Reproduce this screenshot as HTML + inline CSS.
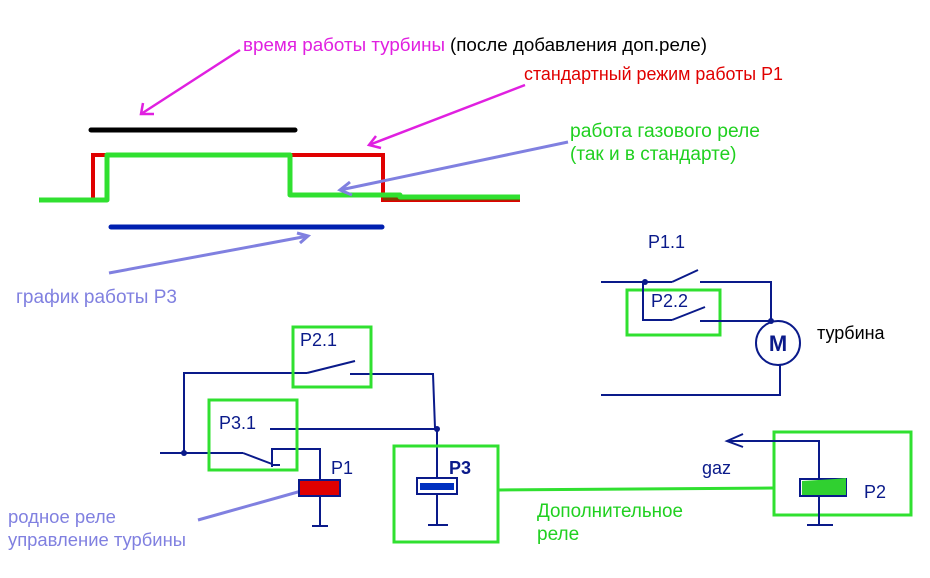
<!DOCTYPE html>
<html><head><meta charset="utf-8"><style>
html,body{margin:0;padding:0;background:#fff;}
svg{display:block;font-family:"Liberation Sans",Arial,sans-serif;}
</style></head><body>
<svg width="930" height="578" viewBox="0 0 930 578" xmlns="http://www.w3.org/2000/svg">
<!-- top texts -->
<text x="243" y="51" font-size="18.5" fill="#e020e0" textLength="202" lengthAdjust="spacingAndGlyphs">время работы турбины</text>
<text x="450" y="51" font-size="18.5" fill="#000" textLength="257" lengthAdjust="spacingAndGlyphs">(после добавления доп.реле)</text>
<text x="524" y="80" font-size="18" fill="#e00000" textLength="259" lengthAdjust="spacingAndGlyphs">стандартный режим работы Р1</text>
<text x="570" y="137" font-size="19" fill="#20d020" textLength="190" lengthAdjust="spacingAndGlyphs">работа газового реле</text>
<text x="570" y="160" font-size="19" fill="#20d020">(так и в стандарте)</text>
<text x="16" y="303" font-size="19" fill="#8080e0" textLength="161" lengthAdjust="spacingAndGlyphs">график работы Р3</text>
<text x="8" y="523" font-size="18.5" fill="#8080e0">родное реле</text>
<text x="8" y="546" font-size="18.5" fill="#8080e0" textLength="178" lengthAdjust="spacingAndGlyphs">управление турбины</text>
<text x="537" y="517" font-size="19" fill="#20d020" textLength="146" lengthAdjust="spacingAndGlyphs">Дополнительное</text>
<text x="537" y="540" font-size="19" fill="#20d020">реле</text>

<!-- timing lines -->
<line x1="91" y1="130" x2="295" y2="130" stroke="#000" stroke-width="5" stroke-linecap="round"/>
<polyline points="93,200 93,155 383,155 383,200 520,200" fill="none" stroke="#e00000" stroke-width="4"/>
<line x1="383" y1="199" x2="520" y2="199" stroke="#804000" stroke-width="3"/>
<polyline points="39,200 107,200 107,155 290,155 290,195 400,195 400,197 520,197" fill="none" stroke="#30e030" stroke-width="5" stroke-linejoin="round"/>
<line x1="111" y1="227" x2="382" y2="227" stroke="#0020b0" stroke-width="5" stroke-linecap="round"/>

<!-- arrows -->
<g stroke="#e020e0" stroke-width="2.5" fill="none">
<line x1="240" y1="50" x2="141" y2="114"/><polyline points="143,103 141,114 154,114"/>
<line x1="525" y1="85" x2="369" y2="145"/><polyline points="376,136 369,145 381,148"/>
</g>
<g stroke="#8080e0" stroke-width="3" fill="none">
<line x1="568" y1="142" x2="340" y2="190"/><polyline points="350,182 340,190 352,195"/>
<line x1="109" y1="273" x2="308" y2="236"/><polyline points="297,233 308,236 300,243"/>
<line x1="198" y1="520" x2="312" y2="488"/>
</g>

<!-- left circuit -->
<g stroke="#0a1a8a" stroke-width="2" fill="none">
<line x1="160" y1="453" x2="243" y2="453"/>
<line x1="243" y1="453" x2="272" y2="464"/>
<line x1="272" y1="448" x2="272" y2="467"/>
<line x1="272" y1="465" x2="280" y2="465"/>
<polyline points="272,449 320,449 320,480"/>
<polyline points="184,453 184,373 307,373"/>
<line x1="307" y1="373" x2="355" y2="361"/>
<polyline points="350,374 433,374 435,428"/>
<line x1="270" y1="429" x2="437" y2="429"/>
<line x1="437" y1="429" x2="437" y2="478"/>
<line x1="320" y1="496" x2="320" y2="526"/>
<line x1="312" y1="526" x2="328" y2="526"/>
<line x1="437" y1="494" x2="437" y2="525"/>
<line x1="428" y1="525" x2="448" y2="525"/>
</g>
<circle cx="184" cy="453" r="3" fill="#0a1a8a"/>
<circle cx="437" cy="429" r="3" fill="#0a1a8a"/>
<rect x="299" y="480" width="41" height="16" fill="#e00000" stroke="#0a1a8a" stroke-width="2"/>
<rect x="417" y="478" width="40" height="16" fill="#fff" stroke="#0a1a8a" stroke-width="2"/>
<rect x="420" y="483" width="34" height="7" fill="#0030c0"/>
<g stroke="#30e030" stroke-width="3" fill="none">
<rect x="293" y="327" width="78" height="60"/>
<rect x="209" y="400" width="88" height="70"/>
<rect x="394" y="446" width="104" height="96"/>
<rect x="774" y="432" width="137" height="83"/>
<rect x="627" y="290" width="93" height="45"/>
<line x1="498" y1="490" x2="774" y2="488"/>
</g>
<g font-size="18" fill="#0a1a8a">
<text x="300" y="346">P2.1</text>
<text x="219" y="429">P3.1</text>
<text x="331" y="474">P1</text>
<text x="449" y="474" font-weight="bold">P3</text>
<text x="864" y="498">P2</text>
<text x="702" y="474">gaz</text>
<text x="648" y="248">P1.1</text>
<text x="651" y="307">P2.2</text>
</g>
<text x="817" y="339" font-size="18" fill="#000">турбина</text>

<!-- P2 -->
<rect x="800" y="479" width="46" height="17" fill="#fff" stroke="#0a1a8a" stroke-width="2"/>
<path d="M802,481 L835,479 L846,478 L846,495 L802,495 Z" fill="#30d030"/>
<g stroke="#0a1a8a" stroke-width="2" fill="none">
<polyline points="819,479 819,441 727,441"/>
<polyline points="743,434 727,441 743,447"/>
<line x1="819" y1="496" x2="819" y2="525"/>
<line x1="807" y1="525" x2="833" y2="525"/>
<line x1="601" y1="282" x2="672" y2="282"/>
<line x1="672" y1="282" x2="698" y2="270"/>
<polyline points="700,282 771,282 771,320"/>
<polyline points="643,282 643,320 672,320"/>
<line x1="672" y1="320" x2="705" y2="307"/>
<line x1="700" y1="321" x2="771" y2="321"/>
<circle cx="778" cy="343" r="22"/>
<polyline points="778,365 780,365 780,395 601,395"/>
</g>
<circle cx="645" cy="282" r="3" fill="#0a1a8a"/>
<circle cx="771" cy="321" r="3" fill="#0a1a8a"/>
<text x="778" y="351" font-size="22" font-weight="bold" fill="#0a1a8a" text-anchor="middle">M</text>
</svg>
</body></html>
